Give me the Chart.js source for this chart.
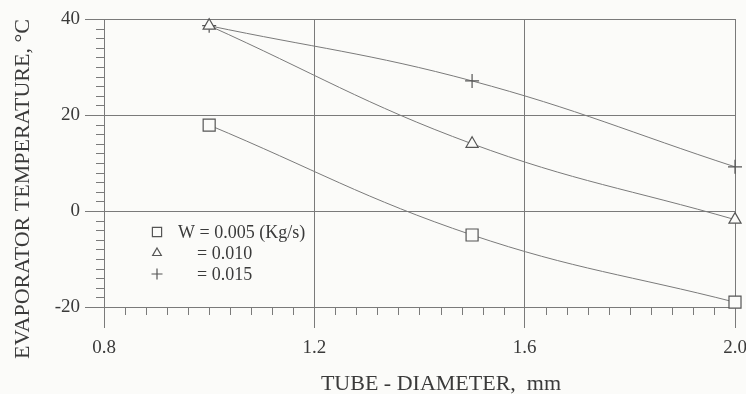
<!DOCTYPE html>
<html>
<head>
<meta charset="utf-8">
<script src="https://cdn.jsdelivr.net/npm/chart.js@4.4.1/dist/chart.umd.min.js"></script>
<style>
  html, body { margin: 0; padding: 0; background: #fbfbf9; overflow: hidden; }
  #wrap { width: 746px; height: 394px; position: relative; }
</style>
</head>
<body>
<div id="wrap"><canvas id="canvas"></canvas></div>
<script>
// tube diameter (mm) vs evaporator temperature (C) for three flow rates
const diameters = [1.0, 1.5, 2.0];
const temps_005 = [17.9, -5.0, -19.0];
const temps_010 = [38.6, 14.0, -1.8];
const temps_015 = [38.6, 27.1, 9.2];

const series_labels = ["W = 0.005 (Kg/s)", "= 0.010", "= 0.015"];
const x_ticks = [0.8, 1.2, 1.6, 2.0];
const y_ticks = [-20, 0, 20, 40];
const x_title = "TUBE - DIAMETER,  mm";
const y_title = "EVAPORATOR TEMPERATURE, \u00B0C";

const ink = "#3a3a3a";
const grey = "#7a7a7a";
const paper = "#fbfbf9";
const serif = "'Liberation Serif', 'DejaVu Serif', serif";

const ctx = document.getElementById("canvas").getContext("2d");

const make_series = (label, temps, style, radius) => ({
  label: label,
  data: diameters.map((d, i) => ({ x: d, y: temps[i] })),
  borderColor: grey,
  borderWidth: 1,
  tension: 0.4,
  fill: false,
  clip: false,
  pointStyle: style,
  pointRadius: radius,
  pointBorderColor: "#555",
  pointBorderWidth: 1.2,
  pointBackgroundColor: paper,
});

// short outward ticks between the labelled ones
const minor_ticks = {
  id: "minor_ticks",
  afterDraw(chart) {
    const { x, y } = chart.scales;
    const c = chart.ctx;
    c.save();
    c.strokeStyle = grey;
    c.lineWidth = 1;
    c.beginPath();
    for (let i = 1; i < 30; i++) {
      if (i % 10 === 0) continue;
      const px = Math.round(x.getPixelForValue(0.8 + i * 0.04)) + 0.5;
      c.moveTo(px, y.bottom);
      c.lineTo(px, y.bottom + 8);
    }
    for (let i = 1; i < 30; i++) {
      if (i % 10 === 0) continue;
      const py = Math.round(y.getPixelForValue(-20 + i * 2)) + 0.5;
      c.moveTo(x.left, py);
      c.lineTo(x.left - 8, py);
    }
    c.stroke();
    c.restore();
  }
};

// legend box inside the plot, plus the two axis titles
const captions = {
  id: "captions",
  afterDraw(chart) {
    const c = chart.ctx;
    const area = chart.chartArea;
    c.save();
    c.textBaseline = "middle";

    c.font = "18px " + serif;
    const rows = [
      { style: "rect", r: 6.5, x: area.left + 74 },
      { style: "triangle", r: 5, x: area.left + 93 },
      { style: "cross", r: 5.5, x: area.left + 93 },
    ];
    rows.forEach((row, i) => {
      const yy = area.top + 213 + i * 21;
      c.strokeStyle = "#555";
      c.fillStyle = paper;
      c.lineWidth = 1.2;
      Chart.helpers.drawPoint(c, {
        pointStyle: row.style, radius: row.r, rotation: 0, borderWidth: 1.2
      }, area.left + 53, yy);
      c.fillStyle = ink;
      c.fillText(series_labels[i], row.x, yy + 1);
    });

    c.fillStyle = ink;
    c.font = "22px " + serif;
    c.textAlign = "center";
    c.fillText(x_title, 441, 384);

    c.translate(23, 189);
    c.rotate(-Math.PI / 2);
    c.fillText(y_title, 0, 0);
    c.restore();
  }
};

const plot = new Chart(ctx, {
  type: "line",
  data: {
    datasets: [
      make_series(series_labels[0], temps_005, "rect", 8.5),
      make_series(series_labels[1], temps_010, "triangle", 7),
      make_series(series_labels[2], temps_015, "cross", 7),
    ]
  },
  options: {
    responsive: true,
    maintainAspectRatio: false,
    animation: false,
    events: [],
    layout: { padding: { left: 0, top: 19, right: 11, bottom: 0 } },
    plugins: {
      legend: { display: false },
      tooltip: { enabled: false },
    },
    scales: {
      x: {
        type: "linear",
        min: 0.8,
        max: 2.0,
        afterBuildTicks: (scale) => { scale.ticks = x_ticks.map(v => ({ value: v })); },
        afterFit: (scale) => { scale.height = 87; scale.paddingLeft = 0; scale.paddingRight = 0; },
        ticks: {
          color: ink,
          font: { family: serif, size: 19 },
          padding: 9,
          maxRotation: 0,
          callback: (v) => v.toFixed(1),
        },
        grid: { color: grey, tickColor: grey, tickLength: 21, lineWidth: 1 },
        border: { color: grey, width: 1 },
      },
      y: {
        type: "linear",
        min: -20,
        max: 40,
        afterBuildTicks: (scale) => { scale.ticks = y_ticks.map(v => ({ value: v })); },
        afterFit: (scale) => { scale.width = 104; scale.paddingTop = 0; scale.paddingBottom = 0; },
        ticks: {
          color: ink,
          font: { family: serif, size: 19 },
          padding: 5,
          callback: (v) => String(v),
        },
        grid: { color: grey, tickColor: grey, tickLength: 19, lineWidth: 1 },
        border: { color: grey, width: 1 },
      }
    }
  },
  plugins: [minor_ticks, captions],
});
</script>
</body>
</html>
